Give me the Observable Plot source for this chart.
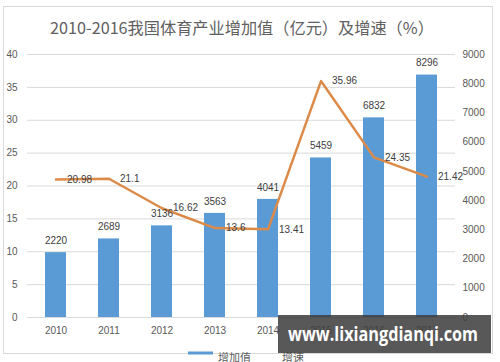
<!DOCTYPE html>
<html><head><meta charset="utf-8">
<script src="https://cdn.jsdelivr.net/npm/d3@7"></script>
<script src="https://cdn.jsdelivr.net/npm/@observablehq/plot@0.6"></script>
<style>
body{margin:0;background:#fff;}
#wrap{position:relative;width:500px;height:362px;overflow:hidden;background:#fff;font-family:"Noto Sans CJK SC","Liberation Sans",sans-serif;}
#frame{position:absolute;left:3px;top:6px;width:490px;height:348px;border:1px solid #d9d9d9;box-sizing:border-box;}
#title{position:absolute;left:0;width:484px;top:15px;text-align:center;font-size:16.2px;line-height:24px;color:#606060;white-space:nowrap;}
#chart{position:absolute;left:0;top:0;}
#overlay{position:absolute;left:0;top:0;}
</style></head>
<body>
<div id="wrap">
  <div id="frame"></div>
  <div id="title">2010-2016我国体育产业增加值（亿元）及增速（%）</div>
  <div id="chart"></div>
  <svg id="overlay" width="500" height="362">
    <rect x="188" y="351.5" width="25" height="3" fill="#5B9BD5"></rect>
    <text x="218" y="362" font-size="11" fill="#595959" font-family="Noto Sans CJK SC">增加值</text>
    <text x="282" y="362" font-size="11" fill="#595959" font-family="Noto Sans CJK SC">增速</text>
    <rect x="278" y="315" width="213" height="38" fill="#3c3c3c" fill-opacity="0.86"></rect>
    <text x="288" y="341" font-size="19" font-weight="bold" fill="#fff" font-family="Open Sans, DejaVu Sans, sans-serif" textLength="190" lengthAdjust="spacingAndGlyphs">www.lixiangdianqi.com</text>
  </svg>
</div>
<script>
const years = ["2010","2011","2012","2013","2014","2015","2016","2017"];
const addedValue = [2220, 2689, 3136, 3563, 4041, 5459, 6832, 8296];
const growthRate = [20.98, 21.1, 16.62, 13.6, 13.41, 35.96, 24.35, 21.42];
const leftTicks = [0, 5, 10, 15, 20, 25, 30, 35, 40];
const rightTicks = [0, 1000, 2000, 3000, 4000, 5000, 6000, 7000, 8000, 9000];
const ratio = 9000 / 40;

const data = years.map((year, i) => ({year, value: addedValue[i], rate: growthRate[i]}));

const chart = Plot.plot({
  width: 500,
  height: 362,
  marginTop: 54,
  marginBottom: 45,
  marginLeft: 27,
  marginRight: 45,
  style: {background: "transparent", fontFamily: "Liberation Sans, Arial, sans-serif", overflow: "visible"},
  x: {domain: years, paddingInner: 0.6, paddingOuter: 0.3, label: null},
  y: {domain: [0, 40], label: null},
  marks: [
    Plot.gridY(leftTicks, {stroke: "#d9d9d9", strokeOpacity: 1}),
    Plot.barY(data, {x: "year", y: d => d.value / ratio, fill: "#5B9BD5"}),
    Plot.line(data, {x: "year", y: "rate", stroke: "#DC8A48", strokeWidth: 2.5}),
    Plot.text(data, {x: "year", y: d => d.value / ratio, text: d => String(d.value), dy: -12, fill: "#404040", fontSize: 10}),
    Plot.text(data, {x: "year", y: "rate", text: d => String(d.rate), dx: 11, textAnchor: "start", fill: "#404040", fontSize: 10}),
    Plot.axisY(leftTicks, {anchor: "left", tickSize: 0, tickPadding: 10, fontSize: 10, fill: "#595959", label: null}),
    Plot.axisY(rightTicks.map(v => v / ratio), {anchor: "right", tickSize: 0, tickPadding: 7, fontSize: 10, fill: "#595959", tickFormat: d => String(Math.round(d * ratio)), label: null}),
    Plot.axisX({tickSize: 0, tickPadding: 9, fontSize: 10, fill: "#595959", label: null})
  ]
});
document.getElementById("chart").appendChild(chart);
</script>
</body></html>
